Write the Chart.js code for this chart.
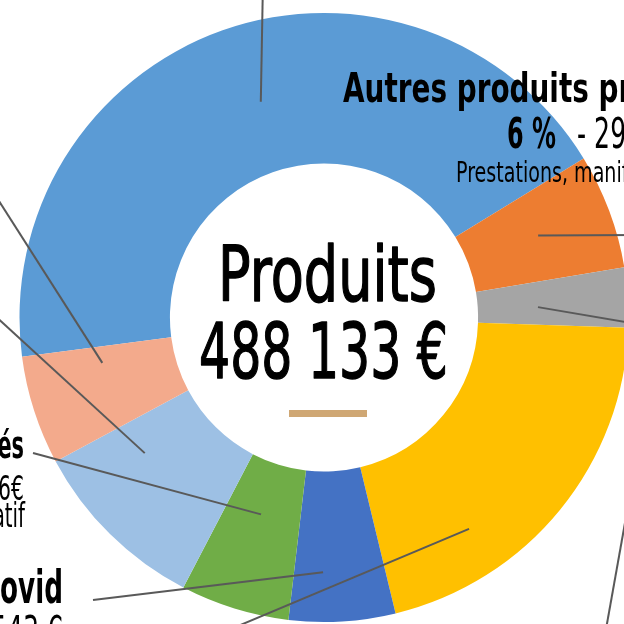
<!DOCTYPE html>
<html lang="fr">
<head>
  <meta charset="UTF-8">
  <title>Produits</title>
  <script src="https://cdn.jsdelivr.net/npm/chart.js"></script>
  <style>
    html, body {
      margin: 0;
      padding: 0;
      background: #fff;
      overflow: hidden;
    }
    #wrap {
      position: absolute;
      left: 0;
      top: 0;
      width: 640px;
      height: 640px;
    }
  </style>
</head>
<body>
  <div id="wrap"><canvas id="chart" width="640" height="640"></canvas></div>

  <script>
    // data (clockwise, starting with the big blue slice)
    const categories = ['Subventions', 'Autres produits propres', 'Produits financiers', 'Cotisations',
                        'Aides Covid', 'Dons affectés', 'Mécénat', 'Reprises'];
    const amounts = [211394, 29800, 15500, 101000, 27543, 28196, 46500, 28200];
    const colors = ['#5B9BD5', '#ED7D31', '#A5A5A5', '#FFC000', '#4472C4', '#70AD47', '#9DC0E4', '#F3AA8C'];
    const totalLabel = '488 133 €';

    // where each leader line leaves its slice (fraction of the angle / of the ring depth) and where it goes
    const leaders = [
      { along: 0.52, depth: 0.47, to: [263, -20] },
      { along: 0.48, depth: 0.50, to: [660, 235] },
      { along: 0.59, depth: 0.40, to: [660, 328] },
      { along: 0.72, depth: 0.68, to: [200, 642] },
      { along: 0.68, depth: 0.67, to: [93, 600] },
      { along: 0.53, depth: 0.35, to: [33, 453] },
      { along: 0.74, depth: 0.47, to: [-20, 302] },
      { along: 0.80, depth: 0.48, to: [-10, 187] }
    ];

    // label texts, cut by the frame like in the original picture
    const labels = [
      { text: 'Autres produits propres', x: 343, y: 102, size: 41, bold: true, align: 'left', ref: 'Autres', refW: 104 },
      { text: '6 %', x: 507, y: 148, size: 42, bold: true, align: 'left', sx: 0.57 },
      { text: '- 29 800 €', x: 577, y: 148, size: 42, bold: false, align: 'left', sx: 0.6 },
      { text: 'Prestations, manifestations', x: 456, y: 182, size: 29, bold: false, align: 'left', ref: 'Prestations,', refW: 112 },
      { text: 'Dons affectés', x: 24, y: 458, size: 38, bold: true, align: 'right', sx: 0.55 },
      { text: '6 % - 28 196€', x: 24, y: 500, size: 34, bold: false, align: 'right', sx: 0.6 },
      { text: 'Fonds associatif', x: 25, y: 527, size: 33, bold: false, align: 'right', sx: 0.6 },
      { text: 'Aides Covid', x: 63, y: 603, size: 46, bold: true, align: 'right', ref: 'ovid', refW: 63 },
      { text: '6 % - 27 543 €', x: 63, y: 646, size: 42, bold: false, align: 'right', sx: 0.6 }
    ];

    function drawText(ctx, t) {
      ctx.save();
      ctx.font = (t.bold ? 'bold ' : '') + t.size + 'px "DejaVu Sans", sans-serif';
      const sx = t.ref ? t.refW / ctx.measureText(t.ref).width : t.sx;
      ctx.translate(t.x, t.y);
      ctx.scale(sx, 1);
      ctx.textAlign = t.align;
      ctx.textBaseline = 'alphabetic';
      ctx.fillStyle = '#000';
      ctx.fillText(t.text, 0, 0);
      if (t.heavy) {
        ctx.strokeStyle = '#000';
        ctx.lineWidth = t.heavy;
        ctx.lineJoin = 'round';
        ctx.strokeText(t.text, 0, 0);
      }
      ctx.restore();
    }

    const annotations = {
      id: 'annotations',
      afterDatasetsDraw(chart) {
        const ctx = chart.ctx;
        const meta = chart.getDatasetMeta(0);
        ctx.save();
        ctx.strokeStyle = '#595959';
        ctx.lineWidth = 2;
        leaders.forEach((l, i) => {
          const p = meta.data[i].getProps(['x', 'y', 'startAngle', 'endAngle', 'innerRadius', 'outerRadius'], true);
          const a = p.startAngle + (p.endAngle - p.startAngle) * l.along;
          const r = p.innerRadius + (p.outerRadius - p.innerRadius) * l.depth;
          ctx.beginPath();
          ctx.moveTo(p.x + Math.cos(a) * r, p.y + Math.sin(a) * r);
          ctx.lineTo(l.to[0], l.to[1]);
          ctx.stroke();
        });
        // stray leader coming from a label outside the frame
        ctx.beginPath();
        ctx.moveTo(628, 506);
        ctx.lineTo(603, 646);
        ctx.stroke();
        ctx.restore();

        labels.forEach(t => drawText(ctx, t));

        // centre title
        const cx = meta.data[0].x;
        drawText(ctx, { text: 'Produits', x: cx + 3.5, y: 301, size: 76, bold: false, align: 'center', ref: 'Produits', refW: 219, heavy: 1.5 });
        drawText(ctx, { text: totalLabel, x: cx - 0.5, y: 378, size: 76, bold: false, align: 'center', ref: totalLabel, refW: 249, heavy: 1.5 });
        ctx.fillStyle = '#CFA774';
        ctx.fillRect(cx - 35, 410, 78, 7);
      }
    };

    new Chart(document.getElementById('chart'), {
      type: 'doughnut',
      data: {
        labels: categories,
        datasets: [{
          data: amounts,
          backgroundColor: colors,
          borderWidth: 0
        }]
      },
      options: {
        responsive: false,
        animation: false,
        rotation: 262.6,
        cutout: '50.6%',
        layout: { padding: { left: 19.5, right: 11.5, top: 13, bottom: 18 } },
        plugins: {
          legend: { display: false },
          tooltip: { enabled: false }
        }
      },
      plugins: [annotations]
    });
  </script>
</body>
</html>
